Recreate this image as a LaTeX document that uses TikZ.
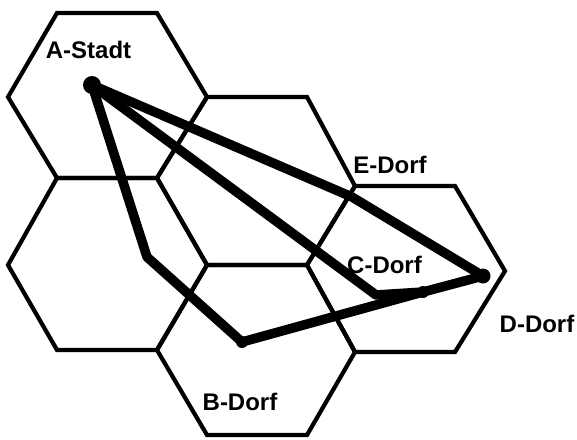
\documentclass[tikz,border=0pt]{standalone}
\usepackage{fontspec}
\setmainfont{Liberation Sans}
\begin{document}
\begin{tikzpicture}[x=1pt,y=-1pt,
  hexline/.style={line width=4.2pt,line join=miter},
  road/.style={line width=9.5pt,line join=round,line cap=round},
  town/.style={circle,fill=black,inner sep=0pt},
  lab/.style={inner sep=0pt,font=\bfseries\fontsize{24}{24}\selectfont}]
\useasboundingbox (0,0) rectangle (577,439);
% honeycomb vertices
\coordinate (a1) at (57,13);  \coordinate (a2) at (157,13);
\coordinate (a3) at (207,97); \coordinate (a4) at (157,178);
\coordinate (a5) at (57,178); \coordinate (a6) at (8,97);
\coordinate (b3) at (207,265); \coordinate (b4) at (157,350);
\coordinate (b5) at (57,350);  \coordinate (b6) at (8,265);
\coordinate (c2) at (307,97);  \coordinate (c3) at (355,186);
\coordinate (c4) at (307,265);
\coordinate (d3) at (355,352); \coordinate (d4) at (307,435);
\coordinate (d5) at (207,435);
\coordinate (e2) at (455,186); \coordinate (e3) at (505,271);
\coordinate (e4) at (455,352);
% hexagons
\draw[hexline] (a1) -- (a2) -- (a3) -- (a4) -- (a5) -- (a6) -- cycle;
\draw[hexline] (a5) -- (a4) -- (b3) -- (b4) -- (b5) -- (b6) -- cycle;
\draw[hexline] (a3) -- (c2) -- (c3) -- (c4) -- (b3) -- (a4) -- cycle;
\draw[hexline] (b3) -- (c4) -- (d3) -- (d4) -- (d5) -- (b4) -- cycle;
\draw[hexline] (c3) -- (e2) -- (e3) -- (e4) -- (d3) -- (c4) -- cycle;
% places
\coordinate (A) at (92,85);
\coordinate (E) at (352,197);
\coordinate (D) at (483,276);
\coordinate (K) at (376,295);
\coordinate (C) at (423,292);
\coordinate (G) at (147,257);
\coordinate (B) at (242,342);
% roads
\draw[road] (A) -- (E) -- (D);
\draw[road] (A) -- (K) -- (C);
\draw[road] (C) -- (D);
\draw[road] (A) -- (G) -- (B) -- (C);
\node[town,minimum size=18pt] (Ad) at (A) {};
\node[town,minimum size=15pt] (Dd) at (D) {};
\node[town,minimum size=12pt] (Cd) at (C) {};
\node[town,minimum size=12pt] (Bd) at (B) {};
% labels
\node[lab] (LA) at (88.5,49.5) {A-Stadt};
\node[lab] (LE) at (390,164.5) {E-Dorf};
\node[lab] (LC) at (384.5,264.5) {C-Dorf};
\node[lab] (LD) at (537,324) {D-Dorf};
\node[lab] (LB) at (240,402) {B-Dorf};
\end{tikzpicture}
\end{document}
